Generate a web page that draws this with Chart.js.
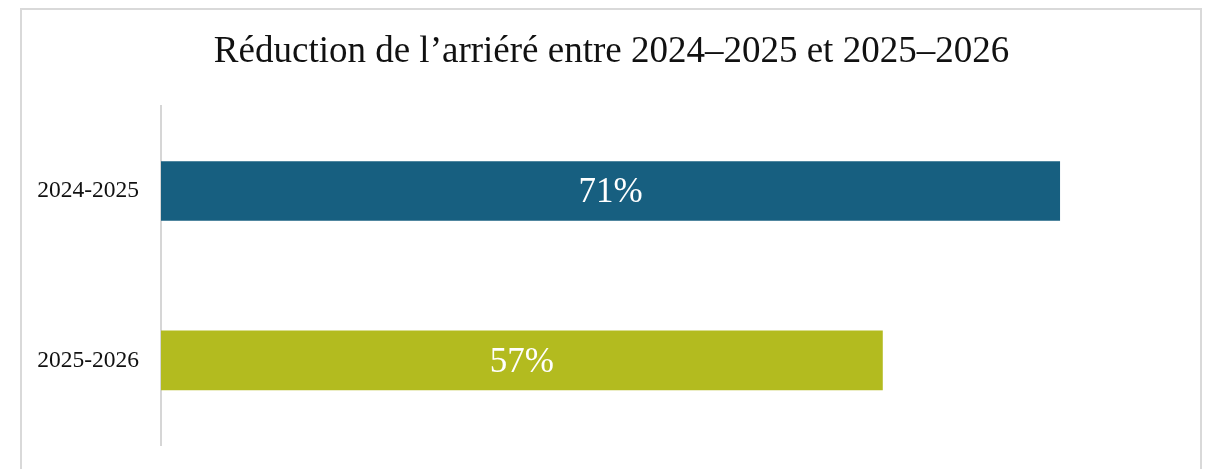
<!DOCTYPE html>
<html>
<head>
<meta charset="utf-8">
<script src="https://cdn.jsdelivr.net/npm/chart.js@4"></script>
<style>
  html, body { margin: 0; padding: 0; background: #fff; }
  #wrap { position: relative; width: 1212px; height: 469px; }
  #frame { position: absolute; left: 20px; top: 8px; width: 1182px; height: 470px; border: 2px solid #d9d9d9; box-sizing: border-box; }
  canvas { position: absolute; left: 0; top: 0; }
</style>
</head>
<body>
<div id="wrap">
  <div id="frame"></div>
  <canvas id="myChart" width="1212" height="469"></canvas>
</div>
<script>
const title = "Réduction de l’arriéré entre 2024–2025 et 2025–2026";
const categories = ['2024-2025', '2025-2026'];
const values = [71, 57];
const barColors = ['#175f80', '#b3bb1f'];
const xMax = 83;

const serif = '"Liberation Serif", "Times New Roman", serif';

// draw the value in the middle of each bar
const barLabels = {
    id: 'barLabels',
    afterDatasetsDraw(chart) {
        const ctx = chart.ctx;
        ctx.save();
        ctx.font = '35px ' + serif;
        ctx.fillStyle = '#ffffff';
        ctx.textAlign = 'center';
        ctx.textBaseline = 'middle';
        chart.getDatasetMeta(0).data.forEach((bar, i) => {
            const x = (bar.base + bar.x) / 2;
            ctx.fillText(values[i] + '%', x, bar.y + 2);
        });
        ctx.restore();
    }
};

const chart_backlog = document.getElementById("myChart");

new Chart(chart_backlog, {
    type: 'bar',
    data: {
        labels: categories,
        datasets: [{
            data: values,
            backgroundColor: barColors,
            borderWidth: 0,
            barPercentage: 0.704,
            categoryPercentage: 0.5
        }]
    },
    options: {
        indexAxis: 'y',
        responsive: false,
        animation: false,
        layout: {
            padding: { top: 0, right: 0, bottom: 24, left: 11 }
        },
        plugins: {
            legend: { display: false },
            tooltip: { enabled: false },
            title: {
                display: true,
                text: title,
                color: '#111',
                font: { family: serif, size: 37, weight: 'normal' },
                padding: { top: 30, bottom: 32 }
            }
        },
        scales: {
            x: {
                display: false,
                min: 0,
                max: xMax
            },
            y: {
                afterFit(scale) {
                    scale.width = 150;
                    scale.paddingTop = 0;
                    scale.paddingBottom = 0;
                },
                grid: { display: false, drawTicks: false },
                border: { display: true, color: '#d6d6d6', width: 2 },
                ticks: {
                    padding: 22,
                    color: '#111',
                    font: { family: serif, size: 23.5 }
                }
            }
        }
    },
    plugins: [barLabels]
});
</script>
</body>
</html>
